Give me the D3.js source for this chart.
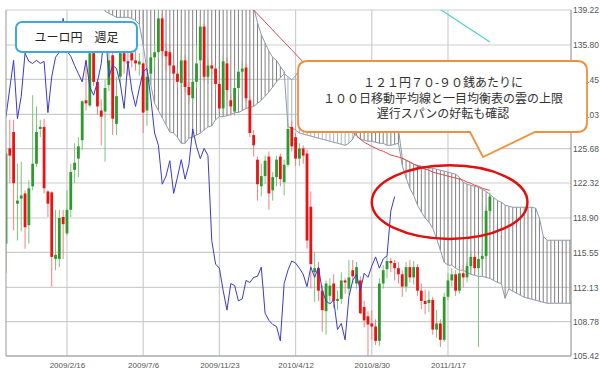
<!DOCTYPE html>
<html>
<head>
<meta charset="utf-8">
<script src="https://cdn.jsdelivr.net/npm/d3@7"></script>
<style>
body { margin: 0; background: #fff; }
svg { display: block; font-family: "Liberation Sans", Arial, sans-serif; }
</style>
</head>
<body>
<svg width="600" height="371"></svg>
<script>
// weekly candles, first week = 2008/10/27
var firstWeek = "2008/10/27";
var lastDay = "2011/8/31";

var opens = [116.4,125.7,127.3,120.3,120.8,121.3,118.2,122.0,124.2,127.6,127.8,121.5,121.4,114.9,114.9,119.0,117.4,119.7,123.6,124.7,
  126.5,130.4,129.9,135.0,132.2,129.4,129.3,131.9,134.8,128.1,132.7,135.0,134.2,135.0,134.3,133.9,134.0,129.4,133.0,134.6,
  135.1,138.4,135.2,135.1,133.8,133.0,132.1,134.3,131.7,130.6,132.2,134.3,137.6,132.7,133.8,133.5,132.0,129.6,134.0,130.4,
  129.3,131.6,133.2,133.6,130.4,127.0,124.6,122.0,123.0,124.9,121.6,122.9,124.9,122.4,124.1,127.8,126.8,124.7,125.7,125.2,
  120.0,113.6,114.0,111.8,109.8,111.3,112.5,110.8,111.0,112.8,112.0,113.8,112.5,112.8,110.2,109.3,108.6,108.3,106.9,112.5,
  113.9,114.7,114.5,114.0,113.4,112.2,114.1,113.1,114.1,111.8,110.8,110.6,110.9,108.0,108.6,107.0,111.2,112.8,113.4,111.8,
  113.5,113.1,114.2,115.1,114.0,114.9,115.2,119.6];
var highs = [125.5,128.5,128.5,124.2,124.4,121.6,122.6,130.9,129.8,128.5,128.6,121.6,121.5,119.7,119.7,119.7,121.6,124.2,126.2,126.8,
  130.4,134.3,135.5,135.6,132.5,130.5,132.4,136.0,135.2,132.7,135.8,136.6,135.5,136.0,135.2,135.0,134.1,133.3,135.0,135.9,
  139.2,138.9,136.0,135.8,134.3,133.6,135.2,134.8,132.2,132.5,135.8,138.3,137.9,134.5,134.4,133.8,132.4,134.8,134.6,131.0,
  131.8,133.5,134.3,134.0,130.8,127.5,124.9,124.2,125.0,125.4,123.4,125.0,125.2,124.6,128.2,128.4,127.2,126.2,126.0,125.6,
  121.5,115.6,114.6,112.3,112.8,113.0,113.4,111.8,113.6,113.0,114.8,114.8,114.6,113.2,110.8,109.8,109.9,109.0,113.0,114.3,
  115.2,115.0,114.8,114.6,113.8,114.6,114.8,114.7,114.4,112.5,111.9,111.8,111.2,109.9,109.0,111.6,113.5,114.0,113.8,113.9,
  114.3,114.6,115.7,115.6,115.3,115.8,120.1,121.4];
var lows = [113.5,122.3,117.7,116.7,117.6,115.9,116.4,121.6,123.9,126.8,121.3,119.0,112.2,113.8,114.1,114.9,117.2,119.0,122.3,122.9,
  125.5,129.4,129.7,131.8,129.0,126.0,124.4,131.3,127.0,127.0,132.0,133.0,132.8,133.6,133.3,132.8,127.2,127.9,132.0,133.6,
  134.5,134.6,133.3,133.0,131.9,131.5,131.5,131.2,130.1,130.0,131.6,133.9,132.2,132.0,132.9,131.4,129.3,129.0,130.4,128.9,
  128.9,131.0,132.6,130.2,126.8,124.9,120.6,121.0,122.2,119.7,120.6,122.0,122.0,121.1,123.9,125.4,124.0,124.0,124.2,115.9,
  112.0,110.7,110.8,107.8,107.5,110.6,110.1,109.9,110.5,111.5,111.4,112.5,112.0,109.5,108.2,105.42,107.0,106.5,106.4,112.0,
  113.0,113.6,112.8,112.5,111.2,111.7,112.6,112.4,111.3,110.0,109.5,109.7,107.5,107.2,106.3,106.8,110.9,112.2,111.3,111.5,
  112.1,112.6,113.8,113.6,106.3,114.0,114.9,119.2];
var closes = [125.2,125.0,122.3,120.6,121.1,118.0,121.8,124.2,127.3,127.8,121.8,120.3,115.1,115.3,118.9,118.3,119.7,123.4,124.3,125.9,
  130.3,130.1,135.0,132.2,129.8,128.8,131.6,134.3,128.6,130.8,135.0,134.2,134.0,134.3,134.0,134.2,129.2,132.7,134.6,135.1,
  138.4,135.2,134.7,133.8,133.0,132.2,134.3,131.7,130.9,132.2,134.0,137.6,132.7,133.8,133.5,132.0,129.6,134.2,131.4,129.8,
  131.6,133.2,133.5,130.6,127.2,126.0,122.2,123.0,124.5,121.3,122.9,124.6,122.7,124.1,127.6,125.9,124.7,125.7,125.0,116.7,
  114.4,114.0,111.8,109.9,112.5,112.3,110.8,111.0,112.8,112.6,113.1,113.2,114.1,109.6,108.9,108.5,108.3,106.9,112.5,113.8,
  114.7,114.5,114.0,113.4,112.2,114.1,113.1,114.1,111.8,110.8,110.5,110.9,108.0,108.6,107.0,111.2,112.8,113.4,111.8,113.5,
  113.1,114.2,115.1,114.0,114.9,115.2,119.6,121.0];

// chikou span = close drawn 25 weeks back
var chikouShift = 25;

// ichimoku cloud, first value at week 26
var cloudStart = 26;
var spanA = [139.1,138.9,138.7,138.5,138.5,138.5,138.5,138.4,138.2,137.8,135.8,133.3,131.9,130.1,129.4,128.7,128.0,127.3,127.2,126.8,
  126.2,126.2,126.7,126.8,127.0,127.2,127.5,127.8,127.9,128.5,128.8,128.8,128.9,129.0,129.2,129.2,129.4,129.6,129.7,
  129.8,130.1,130.4,130.8,131.2,131.7,132.2,132.6,133.0,
  132.7,132.4,132.8,133.4,133.5,133.5,133.2,133.0,132.8,132.5,132.0,131.5,131.0,130.5,130.0,129.5,129.0,128.0,
  127.0,126.6,126.5,126.4,126.4,126.3,126.2,126.2,126.0,126.0,126.1,126.2,
  124.06,122.8,121.8,121.1,120.15,119.5,118.9,118.5,117.9,116.9,115.75,114.58,114.29,114.29,114.0,113.8,113.8,113.6,113.4,113.3,
  113.2,113.2,113.1,113.0,112.8,112.6,112.5,111.06,112.0,111.75,111.55,111.36,111.16,111.06,110.96,110.87,110.77,110.67,
  110.57,110.57,110.57,110.57,110.57,110.57,110.57,110.57,110.77,111.35,111.35];
var spanB = [145.0,145.0,145.0,145.0,144.8,144.8,144.6,144.6,144.4,144.2,144.0,143.8,143.6,143.4,143.2,143.0,142.8,142.6,142.4,142.2,
  142.0,141.9,141.8,141.7,141.6,141.5,141.4,141.3,141.2,141.1,141.0,140.9,140.8,140.7,140.6,140.5,140.4,140.3,140.0,
  139.5,138.0,136.8,136.0,135.2,134.6,134.3,133.7,133.2,
  127.8,127.7,127.5,127.2,127.1,127.0,126.9,126.8,126.7,126.6,126.5,126.4,126.3,126.2,126.1,126.0,126.2,126.6,
  127.5,127.6,127.7,127.7,127.7,127.7,127.7,127.7,127.7,127.7,127.7,127.6,
  124.75,124.55,124.36,124.16,124.06,123.97,123.87,123.77,123.77,123.67,123.57,123.48,123.38,123.28,123.18,122.89,122.4,122.2,122.1,122.0,
  121.9,121.7,121.5,121.2,120.9,120.6,120.45,120.15,120.05,119.95,119.95,119.95,119.95,119.95,119.95,119.86,118.88,117.12,
  116.73,116.73,116.73,116.73,116.73,116.73,116.73,116.73,116.73,116.73,116.73];

// moving averages
var maStart = 63;
var ma100 = [140.0,139.6,139.22,138.83,138.44,138.05,137.66,137.27,136.87,136.48,136.09,135.7,135.31,134.92,134.53,134.14,133.74,
  133.26,132.77,132.18,131.6,131.0,130.42,129.83,129.25,128.66,128.17,127.68,127.29,126.9,126.6,126.3,126.1,125.9,125.73,125.53,
  125.43,125.24,125.04,124.95,124.85,124.75,124.55,124.36,124.16,123.97,123.87,123.67,123.58,123.38,123.28,123.18,123.09,122.99,
  122.89,122.8,122.7,122.6,122.4,122.3,122.1,122.0,121.8,121.7,121.6];
var ma200Start = 112;
var ma200 = [139.8,139.51,139.27,139.02,138.78,138.54,138.29,138.05,137.8,137.56,137.31,137.07,136.82,136.58,136.34,136.09];

var dateTicks = ["2009/2/16","2009/7/6","2009/11/23","2010/4/12","2010/8/30","2011/1/17"];
var priceTicks = ["105.42","108.78","112.13","115.55","118.90","122.32","125.68","129.03","132.45","135.80","139.22"];

var titleText = "ユーロ円　週足";
var noteLines = ["１２１円７０-９０銭あたりに", "１００日移動平均線と一目均衡表の雲の上限", "遅行スパンの好転も確認"];
// circled area: centre (date, price), half size in weeks and yen
var circleAt = {date: "2011/1/20", price: 120.45, weeks: 20.5, yen: 3.6};

var svg = d3.select("svg");
var plotLeft = 6, plotRight = 571, plotTop = 10, plotBottom = 356;
var parse = d3.timeParse("%Y/%m/%d");
var fmt = d3.timeFormat("%Y/%-m/%-d");
var start = parse(firstWeek);
function week(i) { return d3.timeDay.offset(start, 7 * i); }

var x = d3.scaleTime().domain([start, parse(lastDay)]).range([plotLeft, plotRight]);
var y = d3.scaleLinear().domain([+priceTicks[0], +priceTicks[priceTicks.length - 1]]).range([plotBottom, plotTop]);

svg.append("defs").append("clipPath").attr("id", "plot")
  .append("rect").attr("x", plotLeft).attr("y", plotTop)
  .attr("width", plotRight - plotLeft).attr("height", plotBottom - plotTop);

// grid
var grid = svg.append("g");
grid.selectAll("line.h").data(priceTicks).enter().append("line")
  .attr("x1", plotLeft).attr("x2", plotRight)
  .attr("y1", function(d) { return y(+d); }).attr("y2", function(d) { return y(+d); })
  .attr("stroke", "#cdcdcd").attr("stroke-width", 1.2);
grid.selectAll("line.v").data(dateTicks).enter().append("line")
  .attr("y1", plotTop).attr("y2", plotBottom)
  .attr("x1", function(d) { return x(parse(d)); }).attr("x2", function(d) { return x(parse(d)); })
  .attr("stroke", "#cdcdcd").attr("stroke-width", 1.2);

var plot = svg.append("g").attr("clip-path", "url(#plot)");

// cloud hatch
var cloud = spanA.map(function(a, i) { return {k: cloudStart + i, a: a, b: spanB[i]}; });
plot.append("g").selectAll("line").data(cloud).enter().append("line")
  .attr("x1", function(d) { return x(week(d.k)); }).attr("x2", function(d) { return x(week(d.k)); })
  .attr("y1", function(d) { return y(d.a); }).attr("y2", function(d) { return y(d.b); })
  .attr("stroke", function(d) { return d.a > d.b ? "#aab3c4" : "#808080"; })
  .attr("stroke-width", 1);
["a", "b"].forEach(function(key) {
  plot.append("path").datum(cloud)
    .attr("fill", "none").attr("stroke", "#8e9aae").attr("stroke-width", 1)
    .attr("d", d3.line().x(function(d) { return x(week(d.k)); }).y(function(d) { return y(d[key]); }));
});

// candles
var candles = closes.map(function(c, i) { return {i: i, o: opens[i], h: highs[i], l: lows[i], c: c}; });
var cg = plot.append("g").selectAll("g").data(candles).enter().append("g");
cg.append("line")
  .attr("x1", function(d) { return x(week(d.i)); }).attr("x2", function(d) { return x(week(d.i)); })
  .attr("y1", function(d) { return y(d.h); }).attr("y2", function(d) { return y(d.l); })
  .attr("stroke", function(d) { return d.c >= d.o ? "#7cc47c" : "#f28080"; })
  .attr("stroke-width", 1);
cg.append("rect")
  .attr("x", function(d) { return x(week(d.i)) - 1.4; })
  .attr("width", 2.8)
  .attr("y", function(d) { return y(Math.max(d.o, d.c)); })
  .attr("height", function(d) { return Math.max(1, Math.abs(y(d.o) - y(d.c))); })
  .attr("fill", function(d) { return d.c >= d.o ? "#2e9a2e" : "#ee1111"; });

// moving averages
plot.append("path").datum(ma100)
  .attr("fill", "none").attr("stroke", "#e24a4a").attr("stroke-width", 1)
  .attr("d", d3.line().x(function(d, i) { return x(week(maStart + i)); }).y(function(d) { return y(d); }));
plot.append("path").datum(ma200)
  .attr("fill", "none").attr("stroke", "#4fd0d0").attr("stroke-width", 1.2)
  .attr("d", d3.line().x(function(d, i) { return x(week(ma200Start + i)); }).y(function(d) { return y(d); }));

// chikou span
plot.append("path").datum(closes)
  .attr("fill", "none").attr("stroke", "#3a3ac8").attr("stroke-width", 1)
  .attr("d", d3.line().x(function(d, i) { return x(week(i - chikouShift)); }).y(function(d) { return y(d); }));

// frame
svg.append("line").attr("x1", plotLeft).attr("x2", plotLeft).attr("y1", plotTop).attr("y2", plotBottom).attr("stroke", "#999");
svg.append("line").attr("x1", plotLeft).attr("x2", plotRight).attr("y1", plotBottom).attr("y2", plotBottom).attr("stroke", "#999");
svg.append("line").attr("x1", plotRight).attr("x2", plotRight).attr("y1", plotTop).attr("y2", plotBottom).attr("stroke", "#888");

// axes labels
var xAxis = svg.append("g").attr("transform", "translate(0," + plotBottom + ")")
  .call(d3.axisBottom(x).tickValues(dateTicks.map(parse)).tickFormat(fmt).tickSize(0).tickPadding(6));
xAxis.select(".domain").remove();
xAxis.selectAll("text").attr("font-size", 8).attr("fill", "#555").attr("font-family", "Liberation Sans, Arial, sans-serif");

var yAxis = svg.append("g").attr("transform", "translate(" + plotRight + ",0)")
  .call(d3.axisRight(y).tickValues(priceTicks.map(Number)).tickFormat(function(d, i) { return priceTicks[i]; }).tickSize(0).tickPadding(2));
yAxis.select(".domain").remove();
yAxis.selectAll("text").attr("font-size", 8.5).attr("fill", "#555")
  .attr("font-family", "Liberation Sans Narrow, Liberation Sans, Arial, sans-serif");

// circled area
var cx = x(parse(circleAt.date)), cy = y(circleAt.price);
svg.append("ellipse").attr("cx", cx).attr("cy", cy)
  .attr("rx", x(week(circleAt.weeks)) - x(week(0)))
  .attr("ry", y(circleAt.price - circleAt.yen) - cy)
  .attr("fill", "none").attr("stroke", "#e01010").attr("stroke-width", 2.5);

// title box
svg.append("rect").attr("x", 16).attr("y", 22).attr("width", 121).attr("height", 30).attr("rx", 6)
  .attr("fill", "#fff").attr("stroke", "#3ba8de").attr("stroke-width", 2);
svg.append("text").attr("x", 76.5).attr("y", 41.5).attr("text-anchor", "middle")
  .attr("font-family", "Noto Sans CJK JP").attr("font-size", 12).attr("fill", "#222")
  .text(titleText);

// callout
var bx0 = 298, by0 = 61, bx1 = 587, by1 = 132, r = 10;
var callout = d3.path();
callout.moveTo(bx0 + r, by0);
callout.lineTo(bx1 - r, by0);
callout.quadraticCurveTo(bx1, by0, bx1, by0 + r);
callout.lineTo(bx1, by1 - r);
callout.quadraticCurveTo(bx1, by1, bx1 - r, by1);
callout.lineTo(535, by1);
callout.lineTo(483, 157);
callout.lineTo(470, by1);
callout.lineTo(bx0 + r, by1);
callout.quadraticCurveTo(bx0, by1, bx0, by1 - r);
callout.lineTo(bx0, by0 + r);
callout.quadraticCurveTo(bx0, by0, bx0 + r, by0);
callout.closePath();
svg.append("path").attr("d", callout.toString())
  .attr("fill", "#fff").attr("stroke", "#f0903c").attr("stroke-width", 1.8);
svg.append("g").selectAll("text").data(noteLines).enter().append("text")
  .attr("x", 443).attr("y", function(d, i) { return 87 + i * 15.5; })
  .attr("text-anchor", "middle")
  .attr("font-family", "Noto Sans CJK JP").attr("font-size", 12).attr("fill", "#333")
  .text(function(d) { return d; });
</script>
</body>
</html>
